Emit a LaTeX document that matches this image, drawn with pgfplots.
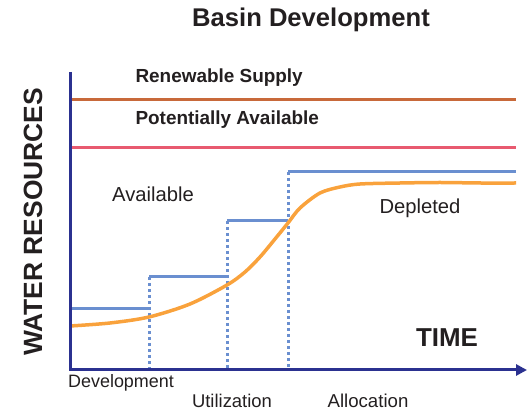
\documentclass[border=0pt]{standalone}
\usepackage{pgfplots}
\pgfplotsset{compat=1.18}
\usetikzlibrary{arrows.meta}
\usepackage{fontspec}
\setmainfont{Liberation Sans}
\definecolor{navy}{HTML}{2B3190}
\definecolor{renew}{HTML}{C8693A}
\definecolor{potav}{HTML}{E85A70}
\definecolor{stepblue}{HTML}{6A8FD0}
\definecolor{curveor}{HTML}{F9A23C}
\definecolor{txt}{HTML}{231F20}
\begin{document}
\begin{tikzpicture}
\begin{axis}[name=ax,
  scale only axis, width=527bp, height=411bp,
  xmin=0, xmax=527, ymin=0, ymax=411,
  axis lines=none, clip=false]
% reference lines
\addplot[renew, line width=3bp] coordinates {(70,311) (516,311)};
\addplot[potav, line width=3bp] coordinates {(70,263) (516,263)};
% steps
\addplot[stepblue, line width=3bp] coordinates {(70,102) (148,102)};
\addplot[stepblue, line width=3bp] coordinates {(149,134) (227,134)};
\addplot[stepblue, line width=3bp] coordinates {(227,190) (288,190)};
\addplot[stepblue, line width=3bp] coordinates {(288,239) (516,239)};
\addplot[stepblue, line width=3bp, dash pattern=on 3bp off 3bp] coordinates {(149,134) (149,41)};
\addplot[stepblue, line width=3bp, dash pattern=on 3bp off 3bp] coordinates {(227,190) (227,41)};
\addplot[stepblue, line width=3bp, dash pattern=on 3bp off 3bp] coordinates {(288,239) (288,41)};
% depletion curve
\addplot[curveor, line width=3.5bp, smooth] coordinates {
(70,85) (110,88) (149,94) (190,107) (227,126) (245,139) (260,154) (275,172) (288,188) (300,203) (320,218) (340,224) (360,227) (400,228) (440,228.5) (480,228) (516,228)};
% axes
\addplot[navy, line width=3bp] coordinates {(70,339) (70,41)};
\addplot[navy, line width=3bp, -{Triangle[length=11bp,width=11bp]}] coordinates {(69,41) (527,41)};
% texts
\node[txt, font=\bfseries\fontsize{25.7}{28}\selectfont] at (axis cs:311,391) {Basin Development};
\node[txt, anchor=west, font=\bfseries\fontsize{19}{21}\selectfont] at (axis cs:132,333) {Renewable Supply};
\node[txt, anchor=west, font=\bfseries\fontsize{19}{21}\selectfont] at (axis cs:132,291) {Potentially Available};
\node[txt, font=\fontsize{20.3}{22}\selectfont] at (axis cs:153,217) {Available};
\node[txt, font=\fontsize{20.3}{22}\selectfont] at (axis cs:420,203) {Depleted};
\node[txt, font=\bfseries\fontsize{26}{28}\selectfont] at (axis cs:447,73) {TIME};
\node[txt, anchor=base, inner sep=0pt, font=\fontsize{18}{20}\selectfont] at (axis cs:121,24) {Development};
\node[txt, anchor=base, inner sep=0pt, font=\fontsize{18.5}{20}\selectfont] at (axis cs:232,3.5) {Utilization};
\node[txt, anchor=base, inner sep=0pt, font=\fontsize{18.7}{20}\selectfont] at (axis cs:368,3.5) {Allocation};
\node[txt, rotate=90, font=\bfseries\fontsize{26.5}{28}\selectfont] at (axis cs:33,189) {WATER RESOURCES};
\end{axis}
\pgfresetboundingbox
\path[use as bounding box] (ax.south west) rectangle (ax.north east);
\end{tikzpicture}
\end{document}
